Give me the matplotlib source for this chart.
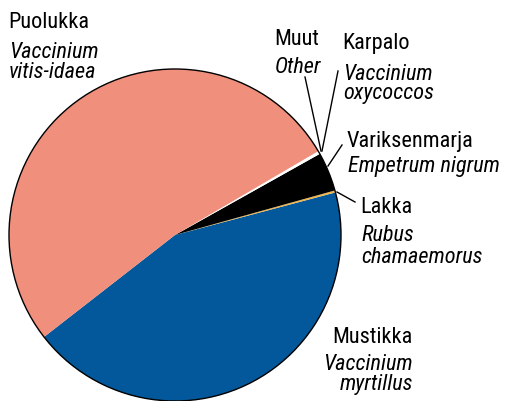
import matplotlib
matplotlib.use("Agg")
import matplotlib.pyplot as plt
from matplotlib.patches import Circle

# berry yield shares (%)
names = ["Mustikka", "Lakka", "Variksenmarja", "Karpalo", "Muut", "Puolukka"]
latin = ["Vaccinium\nmyrtillus", "Rubus\nchamaemorus", "Empetrum nigrum",
         "Vaccinium\noxycoccos", "Other", "Vaccinium\nvitis-idaea"]
shares = [43.6, 0.2, 3.8, 0.2, 0.1, 52.1]
colors = ["#02589A", "#F2B54A", "#000000", "#FFFFFF", "#FFFFFF", "#EF8F7C"]

W, H = 505, 402
fig = plt.figure(figsize=(W / 100, H / 100), dpi=100)
ax = fig.add_axes([0, 0, 1, 1])

cx, cy, r = 175, H - 236, 166
ax.pie(shares, colors=colors, startangle=217.9, counterclock=True,
       center=(cx, cy), radius=r, wedgeprops=dict(linewidth=0))
ax.add_patch(Circle((cx, cy), r, fill=False, ec="black", lw=1))
ax.set_xlim(0, W)
ax.set_ylim(0, H)
ax.set_aspect("equal")
ax.axis("off")

font = ["Roboto Condensed", "Archivo Narrow", "DejaVu Sans"]
fs = 16


def label(x, y, name, sci, sci_dy, ha="left", lsp=20):
    ax.text(x, H - y, name, family=font, fontsize=fs, ha=ha, va="baseline")
    for i, line in enumerate(sci.split("\n")):
        ax.text(x + (1 if ha == "left" else 0), H - (y + sci_dy + i * lsp), line,
                family=font, fontsize=fs, style="italic", ha=ha, va="baseline")


label(8, 28, names[5], latin[5], 30)
label(274, 45, names[4], latin[4], 28)
label(342, 49, names[3], latin[3], 31, lsp=19)
label(347, 147, names[2], latin[2], 25)
label(360, 213, names[1], latin[1], 28, lsp=22)
label(413, 343, names[0], latin[0], 27, ha="right")

# leader lines
leaders = [((305, 78), (321, 152)), ((338, 72), (322, 152)),
           ((342, 146), (328, 167)), ((337, 193), (355, 203))]
for (x0, y0), (x1, y1) in leaders:
    ax.plot([x0, x1], [H - y0, H - y1], color="black", lw=1)

fig.savefig("out.png", dpi=100)
